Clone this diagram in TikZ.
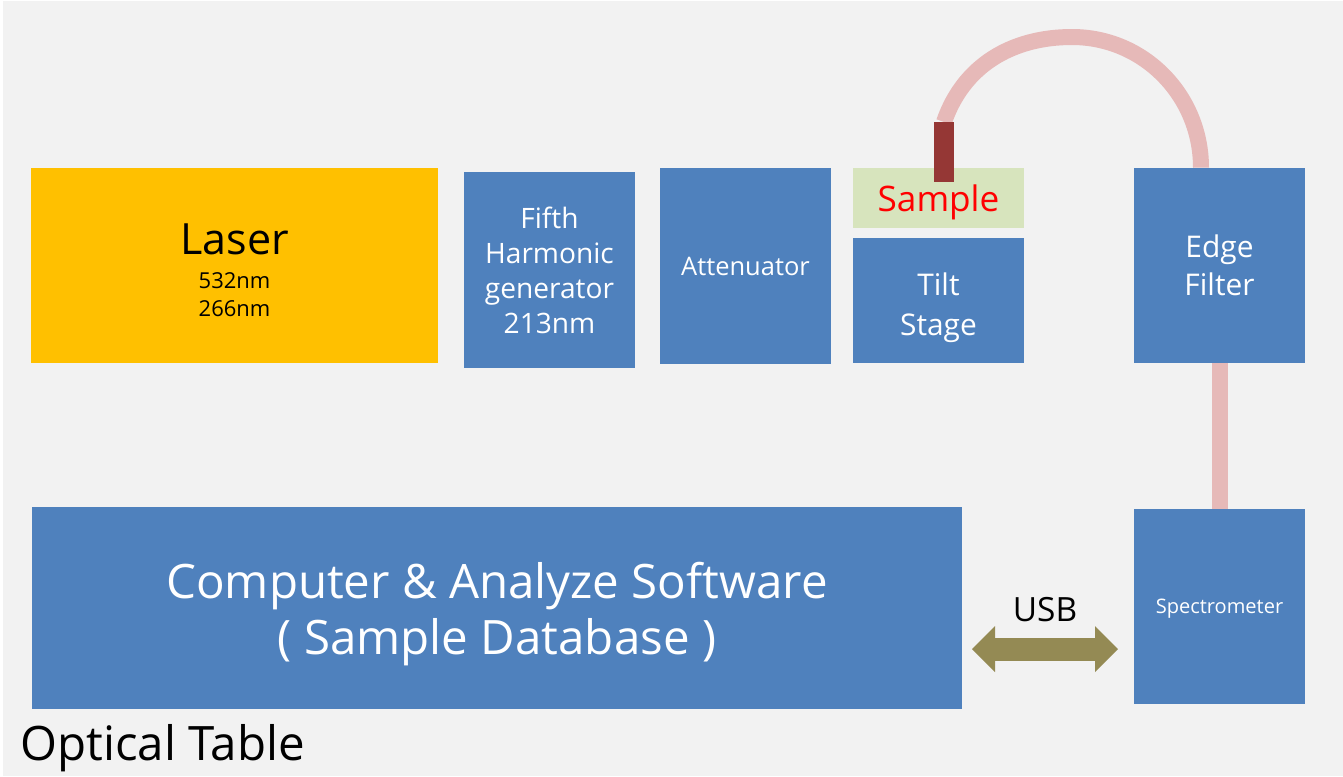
\documentclass[tikz,border=0pt]{standalone}
\usepackage{fontspec}
\setmainfont{Open Sans}
\usetikzlibrary{arrows.meta,positioning}
\definecolor{tablegray}{HTML}{F2F2F2}
\definecolor{laserorange}{HTML}{FFC000}
\definecolor{partblue}{HTML}{4F81BD}
\definecolor{samplegreen}{HTML}{D7E4BD}
\definecolor{probered}{HTML}{953735}
\definecolor{fibrepink}{HTML}{E6B9B8}
\definecolor{usbolive}{HTML}{948A54}
\begin{document}
\begin{tikzpicture}[
  part/.style={fill=partblue,text=white,align=center,inner sep=0pt,text depth=0pt,minimum width=3.42cm},
  fibre/.style={draw=fibrepink,line width=0.32cm},
  usb/.style={draw=usbolive,line width=0.46cm,{Triangle[length=0.46cm,width=0.92cm,line width=0pt]}-{Triangle[length=0.46cm,width=0.92cm,line width=0pt]}}
]
\useasboundingbox (0,0) rectangle (26.86,-15.52);
\fill[tablegray] (0.06,-0.02) rectangle (26.86,-15.52);
\node[fill=laserorange,align=center,inner sep=0pt,minimum width=8.14cm,minimum height=3.9cm,font=\fontsize{12.5}{16}\selectfont] (laser) at (4.69,-5.31) {{\fontsize{24.5}{29}\selectfont\rule{0pt}{23pt}Laser}\\[3.7pt]532nm\\266nm};
\node[part,minimum height=3.92cm,font=\fontsize{16}{20}\selectfont] (fifth) at (10.99,-5.40) {Fifth\\Harmonic\\generator\\213nm};
\node[part,minimum height=3.92cm,font=\fontsize{14.5}{18}\selectfont] (atten) at (14.91,-5.32) {Attenuator};
\node[part,fill=samplegreen,text=red,minimum height=1.2cm,font=\fontsize{20}{24}\selectfont] (sample) at (18.77,-3.96) {Sample};
\node[part,minimum height=2.5cm,font=\fontsize{17}{23}\selectfont] (tilt) at (18.77,-6.01) {\rule{0pt}{17pt}Tilt\\Stage};
\node[part,minimum height=3.9cm,font=\fontsize{17}{21.6}\selectfont] (edge) at (24.39,-5.31) {Edge\\Filter};
\node[part,minimum width=18.6cm,minimum height=4.04cm,font=\fontsize{27}{32}\selectfont] (comp) at (9.94,-12.16) {Computer \& Analyze Software\\( Sample Database )};
\node[part,minimum height=3.9cm,font=\fontsize{11.4}{14}\selectfont] (spec) at (24.39,-12.13) {Spectrometer};
\coordinate (probetop) at (18.88,-2.44);
\coordinate (fibretop) at (21.44,-0.74);
\coordinate (fibreend) at ([xshift=-0.37cm]edge.north);
\draw[fibre] (probetop) to[out=71,in=180] (fibretop) to[out=0,in=90] (fibreend);
\node[fill=probered,minimum width=0.4cm,minimum height=1.2cm,inner sep=0pt,below=0pt of probetop] (probe) {};
\draw[fibre] (edge.south) -- (spec.north);
\coordinate (usbL) at (19.44,-12.98);
\coordinate (usbR) at (22.36,-12.98);
\draw[usb] (usbL) -- node[midway,anchor=base,yshift=0.55cm,font=\fontsize{19}{23}\selectfont] (usbtext) {USB} (usbR);
\node[anchor=base west,inner sep=0pt,font=\fontsize{27}{32}\selectfont] (table) at (0.40,-15.20) {Optical Table};
\end{tikzpicture}
\end{document}
